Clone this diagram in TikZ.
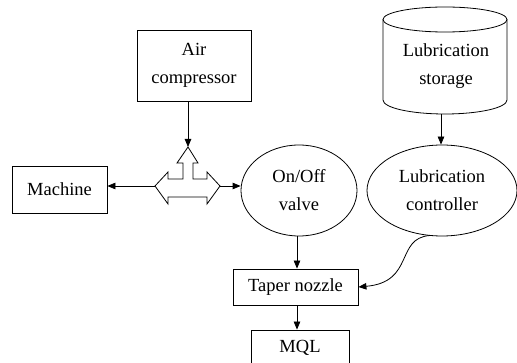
\documentclass[tikz,border=0pt]{standalone}
\usepackage{fontspec}
\setmainfont{Liberation Serif}
\usetikzlibrary{shapes.geometric,arrows.meta}
\begin{document}
\begin{tikzpicture}[x=1pt,y=-1pt,
  txt/.style={font=\fontsize{18.5}{28}\selectfont,align=center},
  box/.style={txt,draw,line width=0.8pt,inner sep=0pt},
  ell/.style={txt,ellipse,draw,line width=0.8pt,inner sep=0pt},
  arr/.style={-{Triangle[length=8pt,width=6.5pt]},line width=0.8pt}]
\useasboundingbox (0,0) rectangle (517,363);
\clip (0,0) rectangle (517,363);
% boxes
\node[box,minimum width=114pt,minimum height=71pt] (air) at (194,65.5) {Air\\compressor};
\node[box,minimum width=95pt,minimum height=47pt] (mach) at (59.5,189.5) {Machine};
\node[box,minimum width=125pt,minimum height=36pt] (taper) at (295.5,287) {Taper nozzle};
\node[box,minimum width=98pt,minimum height=36pt] (mql) at (300,348) {MQL};
% ellipses
\node[ell,minimum width=116pt,minimum height=91pt] (valve) at (299,190.5) {On/Off\\valve};
\node[ell,minimum width=150pt,minimum height=91pt] (ctrl) at (442,190.5) {Lubrication\\controller};
% storage cylinder
\draw[line width=0.8pt] (383,19.5) arc[start angle=180,end angle=-180,x radius=62,y radius=12.5];
\draw[line width=0.8pt] (383,19.5) -- (383,100) arc[start angle=180,end angle=0,x radius=62,y radius=14] -- (507,19.5);
\node[txt] (stor) at (446,66) {Lubrication\\storage};
\coordinate (storbot) at (441,114);
% quad arrow
\draw[line width=0.8pt,line join=miter] (188,147) -- (177,163) -- (183,163) -- (183,179) -- (168,179) -- (168,172)
  -- (155,186) -- (168,204) -- (168,197) -- (207,197) -- (207,204) -- (220,186) -- (207,172) -- (207,179)
  -- (193,179) -- (193,163) -- (198,163) -- cycle;
\coordinate (qtop) at (188,147);
\coordinate (qleft) at (155,186);
\coordinate (qright) at (220,186);
% connectors
\draw[arr] (air.south -| qtop) -- (qtop);
\draw[arr] (qleft) -- (qleft -| mach.east);
\draw[arr] (qright) -- (qright -| valve.west);
\draw[arr] (storbot) -- (storbot |- ctrl.north);
\draw[arr] (valve.south -| 297,0) -- (taper.north -| 297,0);
\draw[arr] (taper.south -| 297,0) -- (mql.north -| 297,0);
\coordinate (cb) at (430,235.5);
\draw[arr] (cb) .. controls (395,238) and (415,282) .. (taper.east);
\end{tikzpicture}
\end{document}
